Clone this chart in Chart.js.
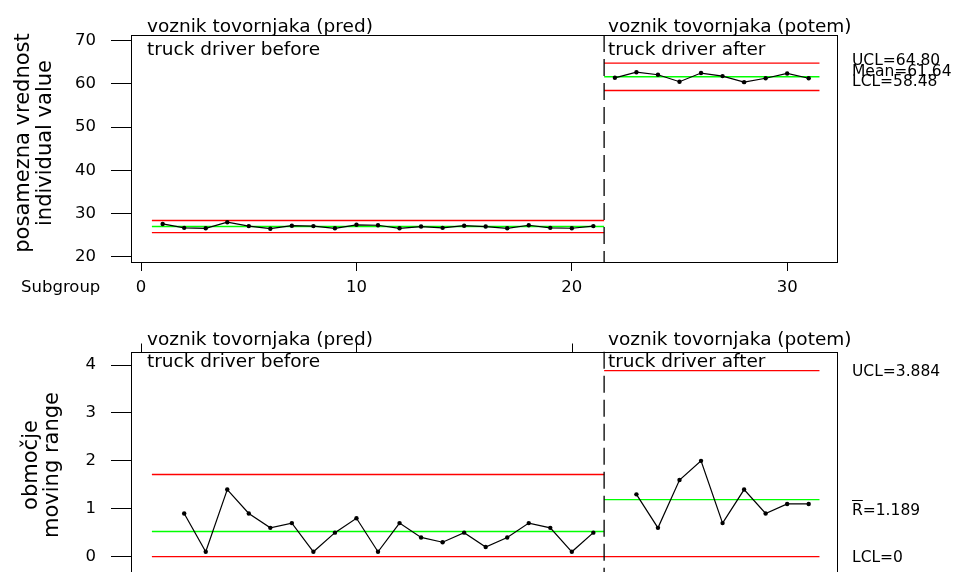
<!DOCTYPE html>
<html><head><meta charset="utf-8">
<script src="https://cdn.jsdelivr.net/npm/chart.js@4.4.1/dist/chart.umd.min.js"></script>
<style>
html,body{margin:0;padding:0;background:#fff;overflow:hidden;}
#wrap{position:relative;width:954px;height:572px;overflow:hidden;background:#fff;}
#c1{position:absolute;left:0;top:0;}
#c2{position:absolute;left:0;top:300px;}
</style></head><body>
<div id="wrap"><canvas id="c1" width="954" height="300"></canvas><canvas id="c2" width="954" height="320"></canvas></div>
<script>
const subgroupsBefore = [1,2,3,4,5,6,7,8,9,10,11,12,13,14,15,16,17,18,19,20,21];
const subgroupsAfter = [22,23,24,25,26,27,28,29,30,31];
const valuesBefore = [27.6,26.7,26.6,28.0,27.1,26.5,27.2,27.1,26.6,27.4,27.3,26.6,27.0,26.7,27.2,27.0,26.6,27.3,26.7,26.6,27.1];
const valuesAfter = [61.4,62.7,62.1,60.5,62.5,61.8,60.4,61.3,62.4,61.3];
const mrBefore = [null,0.9,0.1,1.4,0.9,0.6,0.7,0.1,0.5,0.8,0.1,0.7,0.4,0.3,0.5,0.2,0.4,0.7,0.6,0.1,0.5];
const mrAfter = [null,1.3,0.6,1.6,2.0,0.7,1.4,0.9,1.1,1.1];
const phaseEdges = [0.5, 21.5, 31.5];
const indLimitsBefore = [28.4, 27.0, 25.6];   // UCL, center, LCL
const indLimitsAfter = [64.80, 61.64, 58.48];
const mrLimitsBefore = [1.715, 0.525, 0];
const mrLimitsAfter = [3.884, 1.189, 0];
const xTickValues = [0,10,20,30];
const yTicksInd = [20,30,40,50,60,70];
const yTicksMR = [0,1,2,3,4];
const phaseTitles = ["voznik tovornjaka (pred)","voznik tovornjaka (potem)"];
const phaseSubtitles = ["truck driver before","truck driver after"];
const indStatLabels = ["UCL=64.80","Mean=61.64","LCL=58.48"];
const mrStatLabels = ["UCL=3.884","R=1.189","LCL=0"];
const indTitle = ["posamezna vrednost","individual value"];
const mrTitle = ["območje","moving range"];
const xTitle = "Subgroup";

const FONT = '"DejaVu Sans"';
Chart.defaults.font.family = FONT;
Chart.defaults.color = '#000';

function pts(xs, ys){ return xs.map((x,i)=>({x:x, y:ys[i]})).filter(p=>p.y!==null); }
function limitSet(x0,x1,v,color){
  return {data:[{x:x0,y:v},{x:x1,y:v}], borderColor:color, borderWidth:1.4, pointRadius:0, showLine:true, fill:false, order:2};
}
function seriesSet(points){
  return {data:points, borderColor:'#000', borderWidth:1.2, pointRadius:2.2, pointBackgroundColor:'#000', pointBorderWidth:0, showLine:true, fill:false, order:1};
}
function limitSets(lims, x0, x1){
  return [limitSet(x0,x1,lims[0],'#ff0000'), limitSet(x0,x1,lims[1],'#00ff00'), limitSet(x0,x1,lims[2],'#ff0000')];
}

const decor = {
  id:'decor',
  afterDraw(chart, args, o){
    const ctx = chart.ctx, a = chart.chartArea, xs = chart.scales.x, ys = chart.scales.y;
    ctx.save();
    ctx.strokeStyle = '#000'; ctx.lineWidth = 1;
    const L = Math.round(a.left)+0.5, T = Math.round(a.top)+0.5, R = Math.round(a.right)+0.5, B = Math.round(a.bottom)+0.5;
    ctx.strokeRect(L, T, R-L, B-T);
    const xd = xs.getPixelForValue(phaseEdges[1]);
    ctx.setLineDash([17,7]); ctx.lineWidth = 1.3;
    ctx.beginPath(); ctx.moveTo(xd, a.top); ctx.lineTo(xd, a.bottom); ctx.stroke();
    ctx.setLineDash([]); ctx.lineWidth = 1;
    if (o.topTicks) {
      xTickValues.forEach(v=>{
        const px = Math.round(xs.getPixelForValue(v))+0.5;
        ctx.beginPath(); ctx.moveTo(px, T); ctx.lineTo(px, T-9); ctx.stroke();
      });
    }
    ctx.fillStyle = '#000';
    ctx.textAlign = 'left'; ctx.textBaseline = 'alphabetic';
    ctx.font = '18.5px ' + FONT;
    phaseTitles.forEach((t,i)=>ctx.fillText(t, o.phaseX[i], o.titleY));
    phaseSubtitles.forEach((t,i)=>ctx.fillText(t, o.phaseX[i], o.subY));
    ctx.font = '15.5px ' + FONT; ctx.textBaseline = 'middle';
    o.stats.forEach((s,i)=>{
      const yy = ys.getPixelForValue(o.statVals[i]) + o.statOff[i];
      ctx.fillText(s, 852, yy);
      if (o.rbarIndex === i) {
        const w = ctx.measureText('R').width;
        ctx.beginPath(); ctx.moveTo(852, Math.round(yy-10)+0.5); ctx.lineTo(852+w, Math.round(yy-10)+0.5); ctx.stroke();
      }
    });
    ctx.font = '21px ' + FONT; ctx.textBaseline = 'alphabetic'; ctx.textAlign = 'center';
    o.ytitle.forEach((t,i)=>{
      ctx.save(); ctx.translate(o.ytitleX[i], o.ytitleY); ctx.rotate(-Math.PI/2); ctx.fillText(t,0,0); ctx.restore();
    });
    if (o.xtitle) {
      ctx.font = '16.5px ' + FONT; ctx.textAlign = 'left'; ctx.textBaseline = 'middle';
      ctx.fillText(o.xtitle, 21, 287.5);
    }
    ctx.restore();
  }
};

function makeChart(canvas, cfg){
  return new Chart(canvas, {
    type:'scatter',
    data:{datasets:cfg.datasets},
    options:{
      responsive:false, animation:false, events:[],
      layout:{padding:{left:0, right:954-836.7, top:cfg.top, bottom:0}},
      plugins:{legend:{display:false}, tooltip:{enabled:false}, decor:cfg.decor},
      scales:{
        x:{type:'linear', min:-0.47, max:32.3,
          afterBuildTicks:s=>{ s.ticks = xTickValues.map(v=>({value:v})); },
          afterFit:s=>{ s.height = cfg.xHeight; },
          grid:{display:cfg.showX, drawOnChartArea:false, drawTicks:true, tickLength:9, color:'#000', lineWidth:1},
          border:{display:false},
          ticks:{display:cfg.showX, padding:7, font:{size:16.5}, color:'#000', maxRotation:0, autoSkip:false, callback:v=>String(v)}},
        y:{type:'linear', min:cfg.ymin, max:cfg.ymax,
          afterBuildTicks:s=>{ s.ticks = cfg.yticks.map(v=>({value:v})); },
          afterFit:s=>{ s.width = 131; },
          grid:{drawOnChartArea:false, drawTicks:true, tickLength:20, color:'#000', lineWidth:1},
          border:{display:false},
          ticks:{padding:15, font:{size:16.5}, color:'#000', autoSkip:false, callback:v=>String(v)}}
      }
    },
    plugins:[decor]
  });
}

makeChart(document.getElementById('c1'), {
  top:35, xHeight:38, showX:true, ymin:18.8, ymax:71.3, yticks:yTicksInd,
  datasets:[
    ...limitSets(indLimitsBefore, phaseEdges[0], phaseEdges[1]),
    ...limitSets(indLimitsAfter, phaseEdges[1], phaseEdges[2]),
    seriesSet(pts(subgroupsBefore, valuesBefore)),
    seriesSet(pts(subgroupsAfter, valuesAfter))
  ],
  decor:{topTicks:false, phaseX:[147,608], titleY:32, subY:55,
    stats:indStatLabels, statVals:indLimitsAfter, statOff:[-2.6,-4.8,-8.4], rbarIndex:-1,
    ytitle:indTitle, ytitleX:[29,51], ytitleY:143, xtitle:xTitle}
});

makeChart(document.getElementById('c2'), {
  top:51.7, xHeight:43.3, showX:false, ymin:-0.42, ymax:4.28, yticks:yTicksMR,
  datasets:[
    ...limitSets(mrLimitsBefore, phaseEdges[0], phaseEdges[1]),
    ...limitSets(mrLimitsAfter, phaseEdges[1], phaseEdges[2]),
    seriesSet(pts(subgroupsBefore, mrBefore)),
    seriesSet(pts(subgroupsAfter, mrAfter))
  ],
  decor:{topTicks:true, phaseX:[147,608], titleY:45, subY:67,
    stats:mrStatLabels, statVals:mrLimitsAfter, statOff:[1,10.8,1.7], rbarIndex:1,
    ytitle:mrTitle, ytitleX:[37,58], ytitleY:165, xtitle:null}
});
</script>
</body></html>
